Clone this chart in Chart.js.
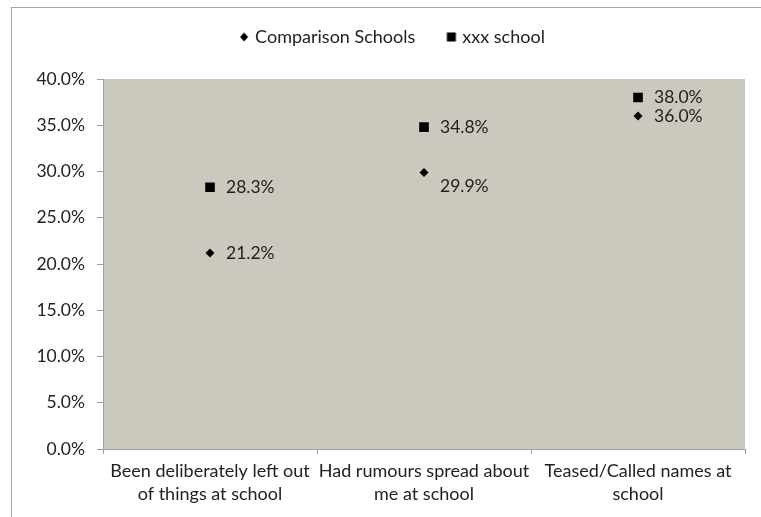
<!DOCTYPE html>
<html>
<head>
<meta charset="utf-8">
<script src="https://cdn.jsdelivr.net/npm/chart.js@4.4.1/dist/chart.umd.min.js"></script>
<style>
  html, body { margin: 0; padding: 0; background: #ffffff; }
  #wrap { position: relative; width: 761px; height: 517px; overflow: hidden; }
  #frame { position: absolute; left: 11px; top: 7px; width: 760px; height: 520px;
           border-top: 1px solid #a6a6a6; border-left: 1px solid #a6a6a6; box-sizing: border-box; }
  canvas { position: absolute; left: 0; top: 0; }
</style>
</head>
<body>
<div id="wrap">
  <div id="frame"></div>
  <canvas id="chart" width="761" height="517"></canvas>
</div>
<script>
// Categories (two-line axis labels)
const categories = [
  ['Been deliberately left out', 'of things at school'],
  ['Had rumours spread about', 'me at school'],
  ['Teased/Called names at', 'school']
];
// Percent of students reporting each experience
const comparisonSchools = [21.2, 29.9, 36.0];
const xxxSchool = [28.3, 34.8, 38.0];
// Value axis ticks
const yTicks = [0, 5, 10, 15, 20, 25, 30, 35, 40];

const FONT = 'Lato, "Open Sans", sans-serif';
const TEXT = '#222222';
const AXIS = '#a0a0a0';
const PLOT_BG = '#cbc8be';
const LEGEND_HEIGHT = 59;

// Legend marker images: the marker sits right of centre so the item box
// leaves a gap before it
function markerImage(kind) {
  const c = document.createElement('canvas');
  c.width = 40; c.height = 12;
  const g = c.getContext('2d');
  g.fillStyle = '#000';
  const cx = 33, cy = 6;
  if (kind === 'diamond') {
    g.beginPath();
    g.moveTo(cx, cy - 4.5); g.lineTo(cx + 4, cy); g.lineTo(cx, cy + 4.5); g.lineTo(cx - 4, cy);
    g.closePath(); g.fill();
  } else {
    g.fillRect(cx - 4.5, cy - 4.5, 9, 9);
  }
  return c;
}
const legendMarkers = [markerImage('diamond'), markerImage('square')];

// Fixed legend band height
const legendBand = {
  id: 'legendBand',
  beforeLayout(chart) {
    const lg = chart.legend;
    if (lg && !lg._bandFixed) {
      const fit = lg.fit;
      lg.fit = function () { fit.call(this); this.height = LEGEND_HEIGHT; };
      lg._bandFixed = true;
    }
  }
};

// Shaded plot area
const plotBackground = {
  id: 'plotBackground',
  beforeDraw(chart) {
    const a = chart.chartArea, ctx = chart.ctx;
    ctx.save();
    ctx.fillStyle = PLOT_BG;
    ctx.fillRect(a.left, a.top, a.right - a.left, a.bottom - a.top);
    ctx.restore();
  }
};

// Value labels to the right of every marker
const valueLabels = {
  id: 'valueLabels',
  afterDatasetsDraw(chart, args, opts) {
    const ctx = chart.ctx;
    ctx.save();
    ctx.font = '17.5px ' + FONT;
    ctx.fillStyle = TEXT;
    ctx.textAlign = 'left';
    ctx.textBaseline = 'middle';
    chart.data.datasets.forEach((ds, di) => {
      const meta = chart.getDatasetMeta(di);
      meta.data.forEach((pt, i) => {
        const shift = (opts.shiftY && opts.shiftY[di] && opts.shiftY[di][i]) || 0;
        ctx.fillText(ds.data[i].toFixed(1) + '%', pt.x + 16, pt.y + shift);
      });
    });
    ctx.restore();
  }
};

new Chart(document.getElementById('chart'), {
  type: 'line',
  data: {
    labels: categories,
    datasets: [
      {
        label: 'Comparison Schools',
        data: comparisonSchools,
        showLine: false,
        pointStyle: 'rectRot',
        pointRadius: 4.5,
        pointHoverRadius: 4.5,
        backgroundColor: '#000',
        borderColor: '#000',
        borderWidth: 0
      },
      {
        label: 'xxx school',
        data: xxxSchool,
        showLine: false,
        pointStyle: 'rect',
        pointRadius: 6.8,
        pointHoverRadius: 6.8,
        backgroundColor: '#000',
        borderColor: '#000',
        borderWidth: 0
      }
    ]
  },
  options: {
    responsive: false,
    animation: false,
    events: [],
    layout: { padding: { left: 16, right: 16, top: 20, bottom: 0 } },
    plugins: {
      tooltip: { enabled: false },
      valueLabels: { shiftY: [[0, 14, 0], [0, 0, 0]] },
      legend: {
        position: 'top',
        labels: {
          usePointStyle: true,
          pointStyleWidth: 30,
          boxWidth: 30,
          boxHeight: 10,
          padding: 8,
          color: TEXT,
          font: { family: FONT, size: 18 },
          generateLabels(chart) {
            return chart.data.datasets.map((ds, i) => ({
              text: ds.label,
              pointStyle: legendMarkers[i],
              fillStyle: '#000',
              strokeStyle: '#000',
              lineWidth: 0,
              fontColor: TEXT,
              hidden: false,
              datasetIndex: i
            }));
          }
        }
      }
    },
    scales: {
      x: {
        type: 'category',
        offset: true,
        grid: {
          offset: true,
          drawOnChartArea: false,
          drawTicks: true,
          tickLength: 5,
          color: AXIS
        },
        border: { display: true, color: AXIS, width: 1 },
        ticks: {
          autoSkip: false,
          maxRotation: 0,
          minRotation: 0,
          padding: 6,
          color: TEXT,
          font: { family: FONT, size: 18, lineHeight: 1.28 }
        },
        afterFit(scale) { scale.height = 68; }
      },
      y: {
        min: 0,
        max: 40,
        afterBuildTicks(scale) { scale.ticks = yTicks.map(v => ({ value: v })); },
        grid: {
          drawOnChartArea: false,
          drawTicks: true,
          tickLength: 6,
          color: AXIS
        },
        border: { display: true, color: AXIS, width: 1 },
        ticks: {
          padding: 12,
          color: TEXT,
          font: { family: FONT, size: 17.5 },
          callback: v => v.toFixed(1) + '%'
        },
        afterFit(scale) { scale.width = 87; }
      }
    }
  },
  plugins: [legendBand, plotBackground, valueLabels]
});
</script>
</body>
</html>
